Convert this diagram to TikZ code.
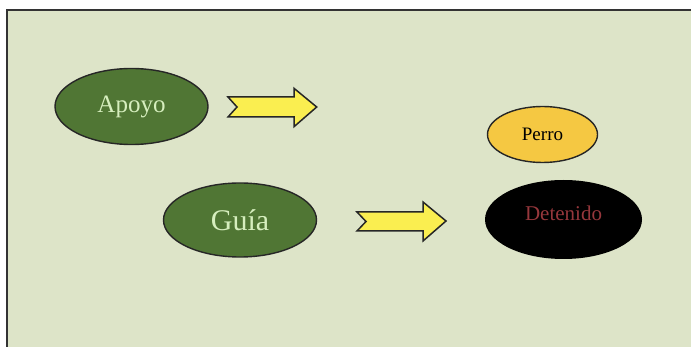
\documentclass[tikz,border=0pt]{standalone}
\usepackage{fontspec}
\setmainfont{Liberation Serif}
\usetikzlibrary{shapes.geometric}
\definecolor{bgc}{RGB}{221,228,200}
\definecolor{darkgr}{RGB}{80,118,52}
\definecolor{txtgr}{RGB}{214,238,190}
\definecolor{arry}{RGB}{250,238,80}
\definecolor{perroy}{RGB}{245,200,66}
\definecolor{detred}{RGB}{150,55,60}
\tikzset{
  greenell/.style={ellipse, draw=black!85, line width=1.4pt, fill=darkgr, text=txtgr, inner sep=0pt},
  fatarrow/.style={draw=black!85, line width=1.5pt, fill=arry, line join=miter},
}
\begin{document}
\begin{tikzpicture}[x=1pt,y=-1pt]
\useasboundingbox (0,0) rectangle (691,347);
\fill[white] (0,0) rectangle (691,347);
\fill[bgc] (7,10.5) rectangle (691,347);
\draw[black!80, line width=2pt] (7,347) -- (7,10.5) -- (691,10.5);
% ellipses
\node[greenell, minimum width=153pt, minimum height=76pt, font=\fontsize{25}{27}\selectfont] (apoyo) at (131.5,106.5) {Apoyo};
\node[greenell, minimum width=153pt, minimum height=74pt, font=\fontsize{30}{32}\selectfont] (guia) at (240,220) {Guía};
\node[ellipse, draw=black!85, line width=1.4pt, fill=perroy, inner sep=0pt, minimum width=110pt, minimum height=56pt, font=\fontsize{19}{21}\selectfont] (perro) at (542.5,134.5) {Perro};
\node[ellipse, fill=black, inner sep=0pt, minimum width=157pt, minimum height=79pt] (det) at (563.5,219.5) {};
\node[text=detred, font=\fontsize{21}{23}\selectfont, inner sep=0pt] (dettext) at (563.5,213) {Detenido};
% arrows
\draw[fatarrow] (228,97) -- (294,97) -- (294,88.3) -- (316.7,107) -- (294,126.7) -- (294,117) -- (228,117) -- (237,107) -- cycle;
\draw[fatarrow] (357,212) -- (423,212) -- (423,202) -- (446,221) -- (423,241) -- (423,231) -- (357,231) -- (366,221.5) -- cycle;
\end{tikzpicture}
\end{document}
